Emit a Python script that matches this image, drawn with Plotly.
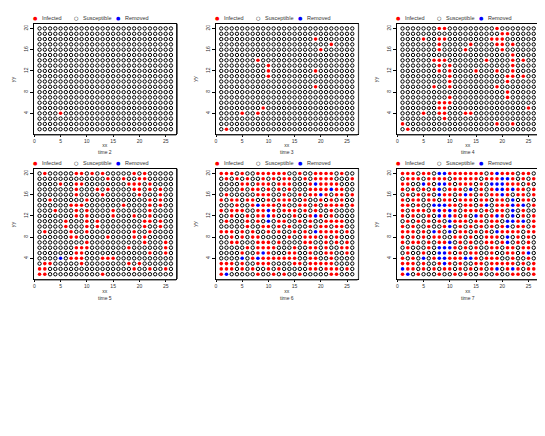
import plotly.graph_objects as go

# time step shown in each panel
times = [2, 3, 4, 5, 6, 7]

# step at which each cell got infected ("." = still susceptible at time 7)
# rows run from yy = 20 (top) down to yy = 1, columns are xx = 1..26 (spaces only for reading)
infected_at = [
    "656.6 7.446 56577 6.746 56.67 .",
    ".676. 6776. 67657 .5764 46.7. 6",
    "77..4 6.446 .666. 7.434 656.7 .",
    "7.7.6 .64.6 75.4. 7.644 6365. 7",
    ".6.7. 7.466 .747. 6.663 6.65. 6",
    "6.56. 66.75 .666. 76.76 .4.57 .",
    "77.6. .4346 6.67. 64.67 6464. 6",
    "6.656 .7463 6.665 .6.67 .4.7. .",
    "7.6.. 6.463 6.7.4 7.636 .4.7. 7",
    ".6.7. 5.6.3 756.7 6.67. 4464. 7",
    "7.7.. 5..64 .5.6. 7.6.6 4.65. 7",
    "656.6 .47.4 .67.6 .6.36 656.6 7",
    "7.6.6 .55.. 77.5. .665. 4.6.7 .",
    "7.66. 7.664 .6.7. .66.7 4.6.5 .",
    ".7... 6.444 6.7.6 ..56. 67.65 .",
    ".7..6 ..436 .7.66 ..6.. 65.74 .",
    "7.7.2 .5346 66445 .766. .6..7 .",
    "655.6 ..646 .7..6 6.565 66.7. 7",
    "456.6 .6.76 .6.7. 7.64. 646.5 7",
    "53.7. ..6.. 6.5.. 6..7. .66.. 7",
]
infectious_steps = 3  # a cell stays infected for 3 steps, then is removed

states = ["Infected", "Susceptible", "Removed"]
state_colors = {"Infected": "#ff0000", "Susceptible": "#000000", "Removed": "#0000ff"}
legend_glyphs = {"Infected": "●", "Susceptible": "○", "Removed": "●"}

x_ticks = [0, 5, 10, 15, 20, 25]
y_ticks = [4, 8, 12, 16, 20]

FONT = "Liberation Sans, Arial, sans-serif"
TEXT = "#333333"

# flatten the grid into cells
cells = []
grid = [r.replace(" ", "") for r in infected_at]
for i, row in enumerate(grid):
    for j, c in enumerate(row):
        cells.append((j + 1, len(grid) - i, None if c == "." else int(c)))


def state_at(step, t):
    if step is None or step > t:
        return "Susceptible"
    if t - step < infectious_steps:
        return "Infected"
    return "Removed"


W, H = 545, 436
col_px = [(26.3, 168.2), (208.0, 349.5), (389.3, 531.0)]
row_px = [(15.7, 126.0), (160.7, 271.0)]

fig = go.Figure()
annotations = []
shapes = []

for k, t in enumerate(times, start=1):
    r, c = (k - 1) // 3, (k - 1) % 3
    sfx = "" if k == 1 else str(k)

    for s in states:
        pts = [(x, y) for x, y, st in cells if state_at(st, t) == s]
        if s == "Susceptible":
            marker = dict(symbol="circle-open", size=3.4, color="#000000", line=dict(width=1))
        else:
            marker = dict(symbol="circle", size=3.6, color=state_colors[s], line=dict(width=0))
        fig.add_trace(go.Scatter(
            x=[p[0] for p in pts], y=[p[1] for p in pts],
            mode="markers", marker=marker, name=s, showlegend=False,
            xaxis="x" + sfx, yaxis="y" + sfx, hoverinfo="skip",
        ))

    x0, x1 = col_px[c]
    y0, y1 = row_px[r]
    axis_common = dict(
        showgrid=False, zeroline=False, showline=True, mirror=True,
        linecolor="#000000", linewidth=1, ticks="outside", tickcolor="#000000",
        tickfont=dict(size=5, color=TEXT, family=FONT),
    )
    fig.update_layout({
        "xaxis" + sfx: dict(axis_common, domain=[x0 / W, x1 / W], range=[0, 27],
                            tickvals=x_ticks, ticklen=2, anchor="y" + sfx),
        "yaxis" + sfx: dict(axis_common, domain=[1 - y1 / H, 1 - y0 / H], range=[0.1, 20.9],
                            tickvals=y_ticks, ticklen=3, tickangle=-90, anchor="x" + sfx),
    })

    # heavier right and bottom edge of the frame
    edge = dict(color="#444444", width=1.2)
    shapes.append(dict(type="line", xref=f"x{sfx} domain", yref=f"y{sfx} domain",
                       xsizemode="pixel", xanchor=1, x0=1, x1=1, y0=0, y1=1, line=edge))
    shapes.append(dict(type="line", xref=f"x{sfx} domain", yref=f"y{sfx} domain",
                       ysizemode="pixel", yanchor=0, y0=-1, y1=-1, x0=0, x1=1, line=edge))

    def note(text, x, y, dx=0, dy=0, **kw):
        d = dict(xref=f"x{sfx} domain", yref=f"y{sfx} domain", x=x, y=y,
                 xshift=dx, yshift=dy, text=text, showarrow=False,
                 font=dict(size=5.5, color=TEXT, family=FONT))
        d.update(kw)
        return d

    # legend row above each panel
    for offset, s in zip([1, 42, 84], states):
        annotations.append(note(legend_glyphs[s], 0, 1, dx=offset, dy=6,
                                xanchor="center", yanchor="middle",
                                font=dict(size=5, color=state_colors[s], family="DejaVu Sans")))
        annotations.append(note(s, 0, 1, dx=offset + 4.5, dy=6, xanchor="left", yanchor="middle"))

    # axis titles: "xx" with the time underneath
    annotations.append(note(f"xx<br>time {t}", 0.5, 0, dy=-15, xanchor="center", yanchor="middle",
                            font=dict(size=5, color=TEXT, family=FONT)))
    annotations.append(note("yy", 0, 0.5, dx=-21, xanchor="center", yanchor="middle", textangle=-90))

fig.update_layout(
    width=W, height=H,
    margin=dict(l=0, r=0, t=0, b=0),
    paper_bgcolor="white", plot_bgcolor="white",
    annotations=annotations,
    shapes=shapes,
    font=dict(family=FONT, color=TEXT),
)

fig.write_html("out.html")
